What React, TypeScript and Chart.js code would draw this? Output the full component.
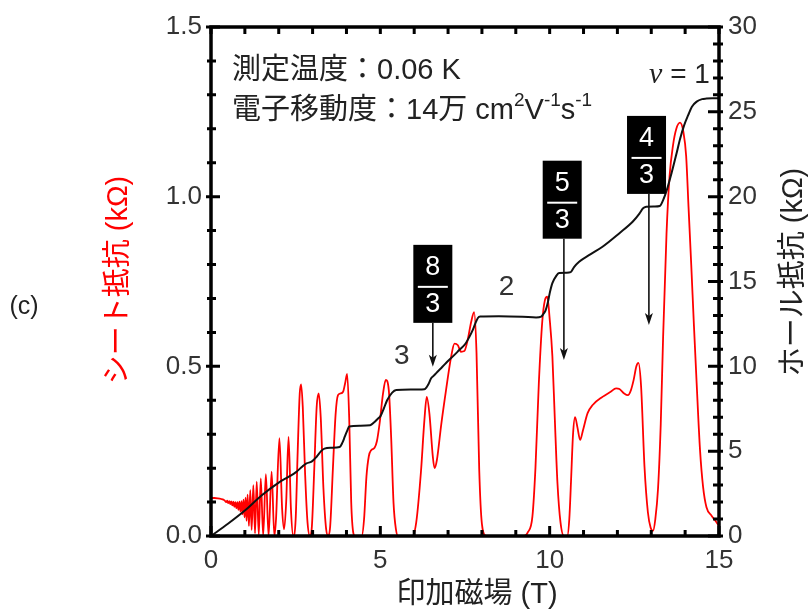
import React, { useEffect, useRef } from "react";
import { Chart, registerables } from "chart.js";

Chart.register(...registerables);

// ---- Sheet resistance (left axis, kΩ) ----
const rxxField = [
  0, 0.1, 0.2, 0.3, 0.4, 0.45, 0.48, 0.51, 0.54, 0.57,
  0.6, 0.63, 0.66, 0.69, 0.72, 0.75, 0.78, 0.81, 0.84, 0.87,
  0.9, 0.93, 0.96, 0.99, 1.02, 1.05, 1.08, 1.12, 1.16, 1.2,
  1.25, 1.3, 1.35, 1.41, 1.47, 1.54, 1.62, 1.7, 1.79, 1.87,
  1.92, 2.02, 2.1, 2.16, 2.22, 2.29, 2.36, 2.43, 2.5, 2.56,
  2.62, 2.66, 2.71, 2.78, 2.85, 2.92, 2.98, 3.05, 3.12, 3.18,
  3.24, 3.32, 3.4, 3.46, 3.52, 3.6, 3.68, 3.75, 3.82, 3.9,
  3.96, 4.02, 4.08, 4.14, 4.2, 4.25, 4.45, 4.52, 4.59, 4.66,
  4.73, 4.83, 4.9, 4.98, 5.08, 5.16, 5.25, 5.32, 5.39, 5.46,
  5.52, 5.95, 6.06, 6.2, 6.3, 6.37, 6.45, 6.55, 6.6, 6.67,
  6.8, 6.94, 7.09, 7.19, 7.29, 7.38, 7.48, 7.58, 7.68, 7.77,
  7.84, 7.92, 8.0, 8.12, 9.25, 9.35, 9.49, 9.58, 9.68, 9.78,
  9.86, 9.93, 10.0, 10.08, 10.15, 10.23, 10.32, 10.42, 10.52, 10.58,
  10.63, 10.69, 10.75, 10.82, 10.9, 10.98, 11.12, 11.27, 11.56, 11.8,
  11.96, 12.06, 12.2, 12.31, 12.4, 12.48, 12.56, 12.62, 12.7, 12.8,
  12.9, 12.98, 13.05, 13.12, 13.2, 13.28, 13.35, 13.45, 13.54, 13.64,
  13.74, 13.85, 13.95, 14.03, 14.1, 14.18, 14.26, 14.34, 14.44, 14.53,
  14.63, 14.78, 14.93, 15,
];
const rxxValue = [
  0.112, 0.112, 0.111, 0.109, 0.105, 0.1, 0.104, 0.097, 0.103, 0.094,
  0.102, 0.09, 0.101, 0.086, 0.1, 0.082, 0.1, 0.077, 0.101, 0.072,
  0.103, 0.064, 0.107, 0.055, 0.113, 0.045, 0.122, 0.03, 0.135, 0.018,
  0.15, 0.008, 0.16, 0.003, 0.17, 0.001, 0.182, 0, 0.19, 0,
  0.05, 0.288, 0.08, 0.02, 0.1, 0.292, 0.08, 0, 0.05, 0.25,
  0.42, 0.447, 0.38, 0.18, 0.04, 0, 0.03, 0.2, 0.38, 0.42,
  0.35, 0.14, 0.02, 0, 0.03, 0.2, 0.36, 0.415, 0.42, 0.425,
  0.45, 0.478, 0.35, 0.1, 0.01, 0, 0, 0.05, 0.175, 0.235,
  0.253, 0.26, 0.28, 0.333, 0.42, 0.46, 0.43, 0.29, 0.097, 0.02,
  0, 0, 0.04, 0.19, 0.34, 0.41, 0.36, 0.234, 0.2, 0.224,
  0.33, 0.43, 0.528, 0.567, 0.562, 0.543, 0.545, 0.578, 0.63, 0.66,
  0.54, 0.195, 0.035, 0, 0, 0.01, 0.057, 0.2, 0.45, 0.63,
  0.695, 0.705, 0.64, 0.53, 0.35, 0.156, 0.04, 0, 0, 0.05,
  0.16, 0.3, 0.35, 0.32, 0.283, 0.31, 0.362, 0.386, 0.41, 0.425,
  0.435, 0.433, 0.42, 0.415, 0.43, 0.46, 0.5, 0.51, 0.44, 0.204,
  0.07, 0.025, 0.015, 0.05, 0.14, 0.33, 0.587, 0.89, 1.06, 1.15,
  1.2, 1.218, 1.19, 1.12, 0.97, 0.8, 0.62, 0.45, 0.253, 0.145,
  0.085, 0.06, 0.04, 0.03,
];

// ---- Hall resistance (right axis, kΩ) ----
const rxyField = [
  0, 0.5, 1.0, 1.5, 2.0, 2.3, 2.5, 2.7, 2.82, 2.97,
  3.12, 3.25, 3.35, 3.55, 3.8, 3.88, 3.95, 4.02, 4.08, 4.4,
  4.7, 4.82, 4.92, 5.0, 5.1, 5.2, 5.35, 5.47, 5.9, 6.3,
  6.42, 6.5, 6.58, 6.65, 6.8, 6.94, 7.15, 7.33, 7.5, 7.63,
  7.72, 7.8, 7.88, 7.95, 8.5, 9.2, 9.6, 9.75, 9.82, 9.88,
  9.95, 10.0, 10.08, 10.2, 10.28, 10.5, 10.62, 10.72, 10.87, 11.2,
  11.56, 12.06, 12.45, 12.65, 12.75, 12.85, 13.1, 13.25, 13.35, 13.46,
  13.6, 13.74, 13.85, 13.97, 14.09, 14.2, 14.34, 14.5, 14.63, 14.8,
  15,
];
const rxyValue = [
  0, 0.72, 1.5, 2.4, 3.15, 3.5, 3.75, 4.1, 4.28, 4.38,
  4.67, 5.0, 5.15, 5.2, 5.25, 5.5, 5.85, 6.2, 6.45, 6.5,
  6.53, 6.7, 6.9, 7.05, 7.5, 8.0, 8.45, 8.6, 8.63, 8.65,
  8.95, 9.3, 9.45, 9.6, 9.9, 10.2, 10.6, 10.96, 11.3, 11.74,
  12.1, 12.5, 12.85, 12.93, 12.95, 12.92, 12.88, 12.93, 13.1, 13.3,
  13.8, 14.3, 14.9, 15.35, 15.5, 15.52, 15.55, 15.85, 16.16, 16.6,
  17.05, 17.85, 18.52, 19.0, 19.3, 19.4, 19.42, 19.45, 19.8, 20.4,
  21.4, 22.5, 23.4, 24.2, 24.8, 25.3, 25.6, 25.75, 25.78, 25.8,
  25.8,
];

// ---- tick marks ----
const xTickMarks = [0, 1, 2, 3, 4, 5, 6, 7, 8, 9, 10, 11, 12, 13, 14, 15];
const xMajorMarks = [0, 5, 10, 15];
const leftTickMarks = [0, 0.1, 0.2, 0.3, 0.4, 0.5, 0.6, 0.7, 0.8, 0.9, 1.0, 1.1, 1.2, 1.3, 1.4, 1.5];
const leftMajorMarks = [0, 0.5, 1.0, 1.5];
const rightTickMarks = [0, 1, 2, 3, 4, 5, 6, 7, 8, 9, 10, 11, 12, 13, 14, 15, 16, 17, 18, 19, 20, 21, 22, 23, 24, 25, 26, 27, 28, 29, 30];
const rightMajorMarks = [0, 5, 10, 15, 20, 25, 30];

// ---- annotations (data coordinates: field T, left-axis kΩ) ----
const fractionNumerators = ["8", "5", "4"];
const fractionDenominators = ["3", "3", "3"];
const fractionBoxField = [6.55, 10.37, 12.86];
const fractionArrowField = [6.55, 10.42, 12.93];
const fractionBoxTop = [0.858, 1.106, 1.238];
const fractionArrowTip = [0.499, 0.519, 0.622];

const plateauLabels = ["3", "2"];
const plateauField = [5.63, 8.73];
const plateauValue = [0.529, 0.733];

const infoField = 0.62;
const infoLine1Value = 1.37;
const infoLine2Value = 1.253;
const nuField = 14.73;
const nuValue = 1.359;

const SANS = '"Liberation Sans", Arial, "Noto Sans CJK JP", sans-serif';
const TEXT = "#222";

const decorPlugin = {
  id: "decor",
  afterDraw(chart: any) {
    const ctx: CanvasRenderingContext2D = chart.ctx;
    const ca = chart.chartArea;
    const xs = chart.scales.x;
    const ys = chart.scales.y;
    const y2 = chart.scales.y2;
    ctx.save();

    // frame
    ctx.strokeStyle = "#000";
    ctx.lineWidth = 3.5;
    ctx.strokeRect(ca.left, ca.top, ca.right - ca.left, ca.bottom - ca.top);

    // ticks
    ctx.lineWidth = 3;
    ctx.beginPath();
    for (const b of xTickMarks) {
      const px = xs.getPixelForValue(b);
      const major = xMajorMarks.includes(b);
      ctx.moveTo(px, ca.bottom);
      ctx.lineTo(px, ca.bottom - (major ? 10 : 6));
      ctx.moveTo(px, ca.top);
      ctx.lineTo(px, ca.top + 7);
    }
    for (const v of leftTickMarks) {
      const py = ys.getPixelForValue(v);
      const major = leftMajorMarks.includes(v);
      ctx.moveTo(ca.left - (major ? 5 : 4), py);
      ctx.lineTo(ca.left + (major ? 9 : 5), py);
    }
    for (const v of rightTickMarks) {
      const py = y2.getPixelForValue(v);
      const major = rightMajorMarks.includes(v);
      ctx.moveTo(ca.right + 4, py);
      ctx.lineTo(ca.right - (major ? 11 : 6), py);
    }
    ctx.stroke();

    // fraction boxes + arrows
    for (let i = 0; i < fractionNumerators.length; i++) {
      const cx = xs.getPixelForValue(fractionBoxField[i]);
      const ax = xs.getPixelForValue(fractionArrowField[i]);
      const top = ys.getPixelForValue(fractionBoxTop[i]);
      const tip = ys.getPixelForValue(fractionArrowTip[i]);
      const w = 39, h = 78;
      ctx.fillStyle = "#000";
      ctx.fillRect(cx - w / 2, top, w, h);
      ctx.fillStyle = "#fff";
      ctx.font = `27px ${SANS}`;
      ctx.textAlign = "center";
      ctx.textBaseline = "middle";
      ctx.fillText(fractionNumerators[i], cx, top + 23);
      ctx.fillText(fractionDenominators[i], cx, top + 60);
      ctx.strokeStyle = "#fff";
      ctx.lineWidth = 2;
      ctx.beginPath();
      ctx.moveTo(cx - 15, top + 42);
      ctx.lineTo(cx + 15, top + 42);
      ctx.stroke();
      // arrow
      ctx.strokeStyle = "#111";
      ctx.lineWidth = 1.6;
      ctx.beginPath();
      ctx.moveTo(ax, top + h);
      ctx.lineTo(ax, tip - 8);
      ctx.stroke();
      ctx.fillStyle = "#111";
      ctx.beginPath();
      ctx.moveTo(ax, tip);
      ctx.lineTo(ax - 4, tip - 12);
      ctx.lineTo(ax, tip - 9);
      ctx.lineTo(ax + 4, tip - 12);
      ctx.closePath();
      ctx.fill();
    }

    // plateau labels
    ctx.fillStyle = "#333";
    ctx.font = `28px ${SANS}`;
    ctx.textAlign = "center";
    ctx.textBaseline = "middle";
    for (let i = 0; i < plateauLabels.length; i++) {
      ctx.fillText(plateauLabels[i], xs.getPixelForValue(plateauField[i]), ys.getPixelForValue(plateauValue[i]));
    }

    // nu = 1
    {
      const rx = xs.getPixelForValue(nuField);
      const py = ys.getPixelForValue(nuValue);
      ctx.textAlign = "left";
      ctx.textBaseline = "middle";
      ctx.font = `28px ${SANS}`;
      const rest = " = 1";
      const wRest = ctx.measureText(rest).width;
      ctx.font = `italic 30px "Liberation Serif", serif`;
      const wNu = ctx.measureText("ν").width;
      const x0 = rx - wRest - wNu;
      ctx.fillStyle = "#222";
      ctx.fillText("ν", x0, py);
      ctx.font = `28px ${SANS}`;
      ctx.fillText(rest, x0 + wNu, py);
    }

    // info text
    {
      const x0 = xs.getPixelForValue(infoField);
      const py1 = ys.getPixelForValue(infoLine1Value);
      const py2 = ys.getPixelForValue(infoLine2Value);
      ctx.fillStyle = TEXT;
      ctx.textAlign = "left";
      ctx.textBaseline = "middle";
      ctx.font = `29px ${SANS}`;
      ctx.fillText("測定温度：0.06 K", x0, py1);
      const runs: [string, boolean][] = [
        ["電子移動度：14万 cm", false],
        ["2", true],
        ["V", false],
        ["-1", true],
        ["s", false],
        ["-1", true],
      ];
      let x = x0;
      for (const [t, sup] of runs) {
        ctx.font = sup ? `19px ${SANS}` : `29px ${SANS}`;
        ctx.fillText(t, x, sup ? py2 - 10 : py2);
        x += ctx.measureText(t).width;
      }
    }

    // axis titles
    ctx.textAlign = "center";
    ctx.textBaseline = "middle";
    ctx.font = `29px ${SANS}`;
    ctx.fillStyle = "#ff0000";
    ctx.save();
    ctx.translate(119, 280);
    ctx.rotate(-Math.PI / 2);
    ctx.fillText("シート抵抗 (kΩ)", 0, 0);
    ctx.restore();

    ctx.fillStyle = TEXT;
    ctx.save();
    ctx.translate(794, 272);
    ctx.rotate(-Math.PI / 2);
    ctx.fillText("ホール抵抗 (kΩ)", 0, 0);
    ctx.restore();

    ctx.fillText("印加磁場 (T)", 477, 595);

    ctx.font = `25px ${SANS}`;
    ctx.fillText("(c)", 24, 307);

    ctx.restore();
  },
};

export default function App() {
  const ref = useRef<HTMLCanvasElement | null>(null);
  useEffect(() => {
    if (!ref.current) return;
    const rxx = rxxField.map((b, i) => ({ x: b, y: rxxValue[i] }));
    const rxy = rxyField.map((b, i) => ({ x: b, y: rxyValue[i] }));
    const tickFont = { family: SANS, size: 26 };
    const chart = new Chart(ref.current, {
      type: "line",
      data: {
        datasets: [
          {
            data: rxy,
            yAxisID: "y2",
            borderColor: "#111",
            borderWidth: 2,
            pointRadius: 0,
            cubicInterpolationMode: "monotone",
            order: 0,
          },
          {
            data: rxx,
            yAxisID: "y",
            borderColor: "#ff0000",
            borderWidth: 1.8,
            pointRadius: 0,
            cubicInterpolationMode: "monotone",
            order: 1,
          },
        ],
      } as any,
      options: {
        responsive: false,
        animation: false,
        layout: { padding: { left: 0, right: 0, top: 27, bottom: 0 } },
        plugins: { legend: { display: false }, tooltip: { enabled: false } },
        scales: {
          x: {
            type: "linear",
            position: "bottom",
            min: 0,
            max: 15,
            grid: { display: false, drawTicks: false },
            border: { display: false },
            ticks: { stepSize: 5, padding: 9, color: "#333", font: tickFont, maxRotation: 0 },
            afterFit: (s: any) => { s.height = 74; },
          },
          y: {
            type: "linear",
            position: "left",
            min: 0,
            max: 1.5,
            grid: { display: false, drawTicks: false },
            border: { display: false },
            ticks: { stepSize: 0.5, padding: 9, color: "#333", font: tickFont, callback: (v: any) => Number(v).toFixed(1) },
            afterFit: (s: any) => { s.width = 211; },
          },
          y2: {
            type: "linear",
            position: "right",
            min: 0,
            max: 30,
            grid: { display: false, drawTicks: false },
            border: { display: false },
            ticks: { stepSize: 5, padding: 9, color: "#333", font: tickFont },
            afterFit: (s: any) => { s.width = 90; },
          },
        },
      } as any,
      plugins: [decorPlugin],
    });
    return () => chart.destroy();
  }, []);
  return (
    <div style={{ position: "fixed", left: 0, top: 0, width: 809, height: 610, background: "#fff" }}>
      <canvas ref={ref} width={809} height={610} style={{ width: 809, height: 610, display: "block" }} />
    </div>
  );
}
